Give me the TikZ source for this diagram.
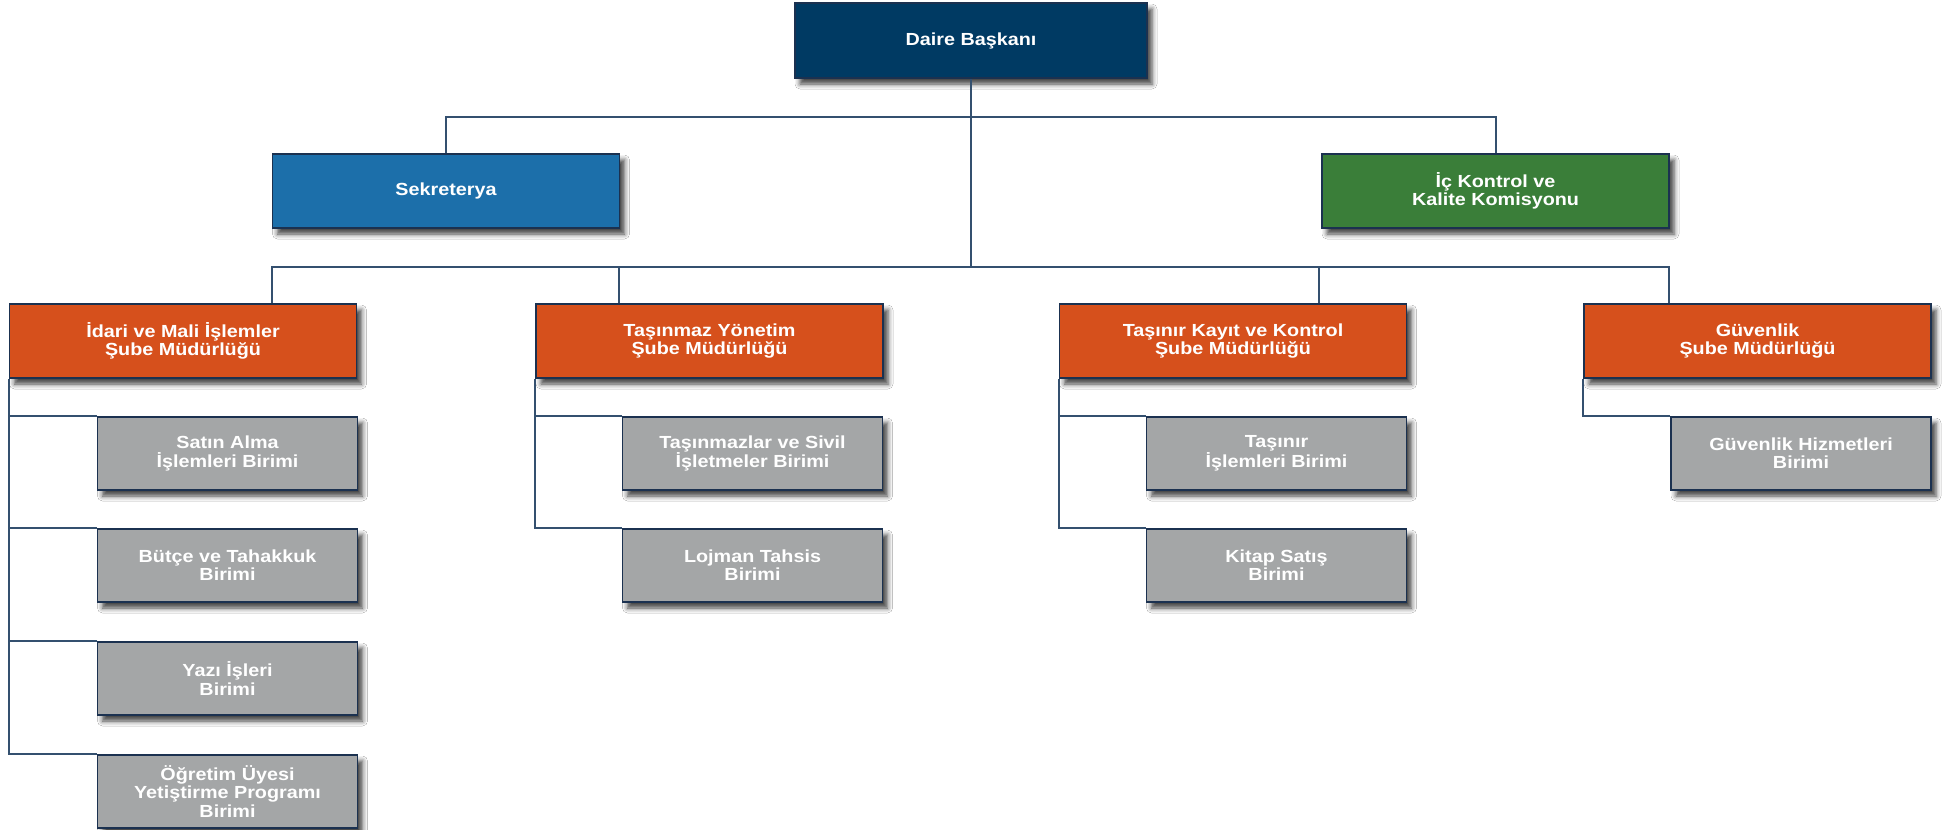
\documentclass[tikz,border=0pt]{standalone}
\usepackage{fontspec}
\newfontfamily\boxfont{Liberation Sans}[FakeStretch=1.13]
\usetikzlibrary{shadows.blur}
\definecolor{navyc}{HTML}{003A63}
\definecolor{bluec}{HTML}{1C6FAA}
\definecolor{greenc}{HTML}{3A7E39}
\definecolor{orangec}{HTML}{D6501C}
\definecolor{grayc}{HTML}{A4A6A7}
\definecolor{borderc}{HTML}{1B3150}
\definecolor{linec}{HTML}{34506F}
\tikzset{
  box/.style={draw=borderc, line width=1.5pt, text=white, align=center, inner sep=0pt,
    font=\boxfont\bfseries\fontsize{17.5}{18.3}\selectfont,
    blur shadow={shadow xshift=5pt, shadow yshift=-6pt, shadow blur radius=5pt, shadow opacity=75}},
  bigbox/.style={box, minimum width=347pt, minimum height=74pt},
  unitbox/.style={box, fill=grayc, minimum width=260pt, minimum height=73pt},
  conn/.style={draw=linec, line width=2pt}
}
\begin{document}
\begin{tikzpicture}[x=1pt,y=-1pt]
\useasboundingbox[fill=white] (0,0) rectangle (1955,830);
% top level
\node[bigbox, fill=navyc, minimum width=352pt, minimum height=75pt] (daire) at (971,40.5) {Daire Başkanı};
\node[bigbox, fill=bluec] (sek) at (446,191) {Sekreterya};
\node[bigbox, fill=greenc] (ick) at (1495.5,191) {İç Kontrol ve\\Kalite Komisyonu};
% branch managers
\node[bigbox, fill=orangec] (o1) at (183,341) {İdari ve Mali İşlemler\\Şube Müdürlüğü};
\node[bigbox, fill=orangec] (o2) at (709.5,341) {Taşınmaz Yönetim\\Şube Müdürlüğü};
\node[bigbox, fill=orangec] (o3) at (1233,341) {Taşınır Kayıt ve Kontrol\\Şube Müdürlüğü};
\node[bigbox, fill=orangec] (o4) at (1757.5,341) {Güvenlik\\Şube Müdürlüğü};
% units
\node[unitbox] (g11) at (227.5,453.5) {Satın Alma\\İşlemleri Birimi};
\node[unitbox] (g12) at (227.5,565.5) {Bütçe ve Tahakkuk\\Birimi};
\node[unitbox] (g13) at (227.5,678.5) {Yazı İşleri\\Birimi};
\node[unitbox] (g14) at (227.5,791.5) {Öğretim Üyesi\\Yetiştirme Programı\\Birimi};
\node[unitbox] (g21) at (752.5,453.5) {Taşınmazlar ve Sivil\\İşletmeler Birimi};
\node[unitbox] (g22) at (752.5,565.5) {Lojman Tahsis\\Birimi};
\node[unitbox] (g31) at (1276.5,453.5) {Taşınır\\İşlemleri Birimi};
\node[unitbox] (g32) at (1276.5,565.5) {Kitap Satış\\Birimi};
\node[unitbox] (g41) at (1801,453.5) {Güvenlik Hizmetleri\\Birimi};
% bus coordinates
\coordinate (b1) at (971,117);
\coordinate (b2) at (971,267);
\coordinate (d1) at ([xshift=89pt]o1.north);
\coordinate (d2) at ([xshift=-90.5pt]o2.north);
\coordinate (d3) at ([xshift=86pt]o3.north);
\coordinate (d4) at ([xshift=-88.5pt]o4.north);
% connectors
\draw[conn] (daire.south) -- (b2);
\draw[conn] (sek.north) -- (sek.north |- b1) -- (ick.north |- b1) -- (ick.north);
\draw[conn] (d1) -- (d1 |- b2) -- (d4 |- b2) -- (d4);
\draw[conn] (d2) -- (d2 |- b2);
\draw[conn] (d3) -- (d3 |- b2);
\foreach \g in {g11,g12,g13,g14} \draw[conn] (o1.south west) |- (\g.north west);
\foreach \g in {g21,g22} \draw[conn] (o2.south west) |- (\g.north west);
\foreach \g in {g31,g32} \draw[conn] (o3.south west) |- (\g.north west);
\draw[conn] (o4.south west) |- (g41.north west);
\end{tikzpicture}
\end{document}
